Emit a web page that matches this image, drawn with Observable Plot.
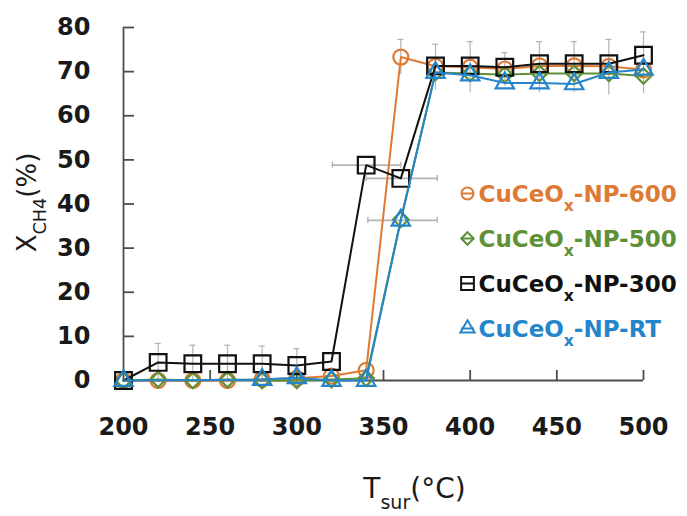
<!DOCTYPE html>
<html><head><meta charset="utf-8">
<script src="https://cdn.jsdelivr.net/npm/d3@7"></script>
<script src="https://cdn.jsdelivr.net/npm/@observablehq/plot@0.6"></script>
<style>html,body{margin:0;padding:0;background:#fff;} #chart{width:687px;height:516px;overflow:hidden}</style>
</head><body><div id="chart"></div>
<script>
// ---- data ----
const temps   = [200,220,240,260,280,300,320,340,360,380,400,420,440,460,480,500];
const np600   = [0,0,0,0,0.3,0.5,1.0,2.3,73.3,71.2,71.0,70.6,71.3,71.3,71.2,70.4];
const np500   = [0,0.2,0,0.2,0,0,0.2,0.5,36.5,69.8,69.6,69.3,69.6,69.6,69.6,69.0];
const np300   = [0,4.1,3.8,3.8,3.8,3.4,4.3,48.8,45.8,71.3,71.3,71.0,71.8,71.8,71.8,73.7];
const rtTemps = [200,280,300,320,340,360,380,400,420,440,460,480,500];
const npRT    = [0,0.2,0.6,0,0,36.3,69.8,69.2,67.4,67.4,67.2,69.8,70.5];

const seriesNames   = ["CuCeO_{x}-NP-600","CuCeO_{x}-NP-500","CuCeO_{x}-NP-300","CuCeO_{x}-NP-RT"];
const seriesColors  = ["#DD7A34","#5E9036","#111111","#2585CB"];
const seriesSymbols = ["circle","diamond2","square","triangle"];

// vertical error bars (temperature, centre, half-width)
const vErrX    = [220,240,260,280,300,360,380,400,420,440,460,480,500];
const vErrMid  = [4.1,3.8,3.8,3.8,3.4,73.3,71.0,71.0,70.5,71.0,71.0,71.0,72.0];
const vErrHalf = [4.3,4.2,4.2,4.0,3.8,4.0,5.2,5.8,3.8,5.8,5.8,6.3,7.0];
// horizontal error bars (value, low temperature, high temperature)
const hErrY  = [48.8,45.8,36.3];
const hErrLo = [320.5,340,341];
const hErrHi = [360,381,381];

const xTicks = [200,250,300,350,400,450,500];
const yTicks = [0,10,20,30,40,50,60,70,80];
const xTitle = "T_{sur}(°C)";
const yTitle = "X_{CH4}(%)";

// ---- layout ----
const W = 687, H = 516, mL = 123, mR = 44, mT = 27, mB = 136;
const xDomain = [200, 500], yDomain = [0, 80];
const xd = px => xDomain[0] + (px - mL) / (W - mL - mR) * (xDomain[1] - xDomain[0]);
const yd = py => yDomain[0] + (H - mB - py) / (H - mT - mB) * (yDomain[1] - yDomain[0]);

const seriesData = [
  temps.map((t,i)=>({x:t, y:np600[i]})),
  temps.map((t,i)=>({x:t, y:np500[i]})),
  temps.map((t,i)=>({x:t, y:np300[i]})),
  rtTemps.map((t,i)=>({x:t, y:npRT[i]}))
];
const markerR = [7.5, 7.0, 9.4, 6.8];
const legendR = [6, 5.6, 7.2, 5.3];

const vErr = vErrX.map((x,i)=>({x, lo: vErrMid[i]-vErrHalf[i], hi: vErrMid[i]+vErrHalf[i]}));
const hErr = hErrY.map((y,i)=>({y, lo: hErrLo[i], hi: hErrHi[i]}));

const errColor = "#b3b3b3", axisColor = "#4d4d4d";
const lineSym = {draw(ctx, size){ const h = Math.sqrt(size/Math.PI); ctx.moveTo(-h,0); ctx.lineTo(h,0); }};

const marks = [];
// error bars
marks.push(Plot.ruleX(vErr, {x:"x", y1:"lo", y2:"hi", stroke: errColor, strokeWidth: 1.2}));
marks.push(Plot.ruleY(vErr, {y:"hi", x1:"x", x2:"x", insetLeft:-3, insetRight:-3, stroke: errColor, strokeWidth: 1.2}));
marks.push(Plot.ruleY(hErr, {y:"y", x1:"lo", x2:"hi", stroke: errColor, strokeWidth: 1.6}));
marks.push(Plot.ruleX(hErr, {x:"lo", y1:"y", y2:"y", insetTop:-3, insetBottom:-3, stroke: errColor, strokeWidth: 1.4}));
marks.push(Plot.ruleX(hErr, {x:"hi", y1:"y", y2:"y", insetTop:-3, insetBottom:-3, stroke: errColor, strokeWidth: 1.4}));
// axis lines + inward ticks
marks.push(Plot.ruleX([xDomain[0]], {y1: yDomain[0], y2: yDomain[1], stroke: axisColor, strokeWidth: 1.8}));
marks.push(Plot.ruleY([yDomain[0]], {x1: xDomain[0], x2: xDomain[1], stroke: axisColor, strokeWidth: 1.8}));
marks.push(Plot.ruleY(yTicks, {y: d=>d, x1: xDomain[0], x2: xDomain[0], insetRight: -11, stroke: axisColor, strokeWidth: 1.8}));
marks.push(Plot.ruleX(xTicks.slice(1), {x: d=>d, y1: yDomain[0], y2: yDomain[0], insetTop: -10, stroke: axisColor, strokeWidth: 1.8}));
// series
seriesData.forEach((data, k) => {
  marks.push(Plot.line(data, {x:"x", y:"y", stroke: seriesColors[k], strokeWidth: 2}));
  marks.push(Plot.dot(data, {x:"x", y:"y", symbol: seriesSymbols[k], r: markerR[k], fill: "none", stroke: seriesColors[k], strokeWidth: 2.2}));
});
// legend
seriesNames.forEach((name, k) => {
  const cy = yd(193 + 45*k);
  marks.push(Plot.dot([name], {x: () => xd(467), y: () => cy, symbol: lineSym, r: 6.5, stroke: seriesColors[k], strokeWidth: 2}));
  marks.push(Plot.dot([name], {x: () => xd(467), y: () => cy, symbol: seriesSymbols[k], r: legendR[k], fill: "none", stroke: seriesColors[k], strokeWidth: 2}));
  marks.push(Plot.text([name], {x: () => xd(478), y: () => yd(201 + 45*k), text: d=>d, textAnchor: "start", lineAnchor: "bottom",
    fill: seriesColors[k], fontSize: 23, fontWeight: "bold", fontFamily: "DejaVu Sans"}));
});
// tick labels
marks.push(Plot.axisX(xTicks, {tickSize: 0, tickPadding: 37, label: null, fontSize: 24, fontWeight: "bold", fontFamily: "DejaVu Sans", color: "#1a1a1a"}));
marks.push(Plot.axisY(yTicks, {tickSize: 0, tickPadding: 33, label: null, fontSize: 24, fontWeight: "bold", fontFamily: "DejaVu Sans", color: "#1a1a1a"}));
// axis titles
marks.push(Plot.text([xTitle], {x: () => xd(414), y: () => yd(497), text: d=>d, textAnchor: "middle", lineAnchor: "bottom",
  fontSize: 28, fontFamily: "DejaVu Sans", fill: "#1a1a1a"}));
marks.push(Plot.text([yTitle], {x: () => xd(35), y: () => yd(202), text: d=>d, rotate: -90, textAnchor: "middle", lineAnchor: "bottom",
  fontSize: 26, fontFamily: "DejaVu Sans", fill: "#1a1a1a"}));

const plot = Plot.plot({
  width: W, height: H,
  marginLeft: mL, marginRight: mR, marginTop: mT, marginBottom: mB,
  x: {domain: xDomain, axis: null},
  y: {domain: yDomain, axis: null},
  style: {fontFamily: "DejaVu Sans", background: "#fff", overflow: "visible"},
  marks
});
document.getElementById("chart").appendChild(plot);

// render "_{...}" as subscripts
d3.select(plot).selectAll("text").each(function(){
  const t = this.textContent;
  if (!t.includes("_{")) return;
  const fs = parseFloat(getComputedStyle(this).fontSize) || 20;
  const parts = [];
  const re = /_\{([^}]*)\}/g; let last = 0, m;
  while ((m = re.exec(t))) { if (m.index > last) parts.push([t.slice(last, m.index), false]); parts.push([m[1], true]); last = re.lastIndex; }
  if (last < t.length) parts.push([t.slice(last), false]);
  const sel = d3.select(this); sel.text(null);
  let shifted = false;
  parts.forEach(([s, sub]) => {
    const ts = sel.append("tspan").text(s);
    if (sub) { ts.attr("dy", (0.4*fs).toFixed(1)).attr("font-size", (0.68*fs).toFixed(1)); shifted = true; }
    else if (shifted) { ts.attr("dy", (-0.4*fs).toFixed(1)); shifted = false; }
  });
});
</script>
</body></html>
